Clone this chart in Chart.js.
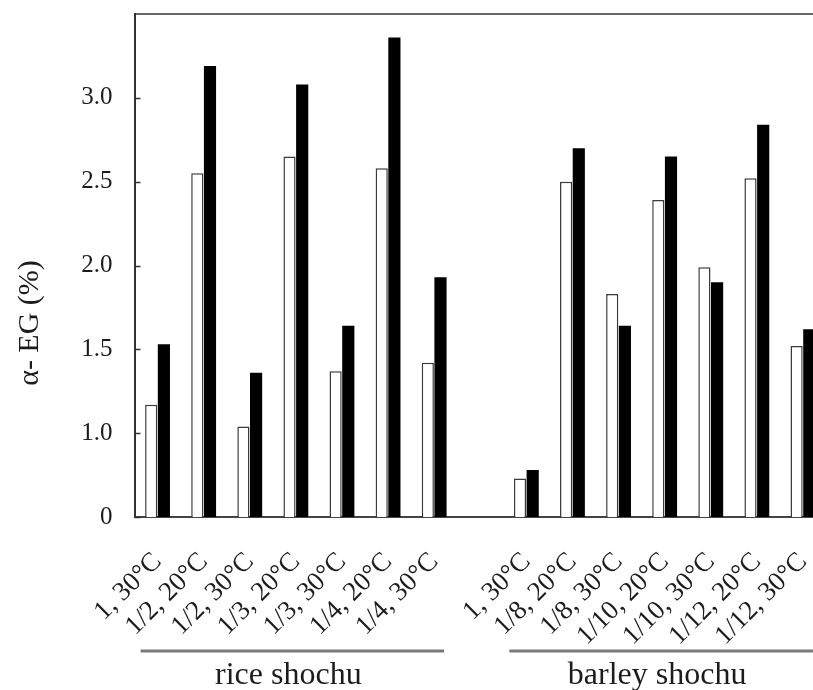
<!DOCTYPE html>
<html>
<head>
<meta charset="utf-8">
<style>
  html, body { margin: 0; padding: 0; background: #fff; overflow: hidden; }
  #wrap { position: absolute; left: 0; top: 0; width: 828px; height: 690px; }
</style>
<script src="https://cdn.jsdelivr.net/npm/chart.js@4/dist/chart.umd.min.js"></script>
</head>
<body>
<div id="wrap"><canvas id="chart" width="828" height="690"></canvas></div>
<script>
// Data (y axis is broken: its "0" sits at 0.5)
const categories = ['1, 30°C', '1/2, 20°C', '1/2, 30°C', '1/3, 20°C', '1/3, 30°C', '1/4, 20°C', '1/4, 30°C', '',
    '1, 30°C', '1/8, 20°C', '1/8, 30°C', '1/10, 20°C', '1/10, 30°C', '1/12, 20°C', '1/12, 30°C'];
const whiteValues = [1.17, 2.55, 1.04, 2.65, 1.37, 2.58, 1.42, null, 0.73, 2.50, 1.83, 2.39, 1.99, 2.52, 1.52];
const blackValues = [1.53, 3.19, 1.36, 3.08, 1.64, 3.36, 1.93, null, 0.78, 2.70, 1.64, 2.65, 1.90, 2.84, 1.62];
const tickValues = [0.5, 1.0, 1.5, 2.0, 2.5, 3.0];
const tickLabels = ['0', '1.0', '1.5', '2.0', '2.5', '3.0'];
const groupLabels = ['rice shochu', 'barley shochu'];
const groupStart = [0, 8];
const groupEnd = [6, 14];

const serif = '"Liberation Serif", "DejaVu Serif", serif';
const ink = '#1c1c1c';

// top frame line, inward y ticks, group brackets and the y title
const extras = {
    id: 'extras',
    afterDraw(chart) {
        const c = chart.ctx;
        const area = chart.chartArea;
        const x = chart.scales.x;
        const y = chart.scales.y;
        c.save();

        c.strokeStyle = '#333';
        c.lineWidth = 1.5;
        c.beginPath();
        c.moveTo(area.left, area.top);
        c.lineTo(area.right, area.top);
        c.stroke();

        tickValues.forEach(v => {
            const py = Math.round(y.getPixelForValue(v)) + 0.5;
            c.beginPath();
            c.moveTo(area.left, py);
            c.lineTo(area.left + 6, py);
            c.stroke();
        });

        c.fillStyle = ink;
        c.textAlign = 'center';
        c.textBaseline = 'alphabetic';
        c.font = '32px ' + serif;
        groupLabels.forEach((g, i) => {
            const x0 = x.getPixelForValue(groupStart[i]) - 17;
            const x1 = x.getPixelForValue(groupEnd[i]) + 10;
            c.strokeStyle = '#7a7a7a';
            c.lineWidth = 3;
            c.beginPath();
            c.moveTo(x0, 651);
            c.lineTo(x1, 651);
            c.stroke();
            c.fillText(g, (x0 + x1) / 2 - 4, 684);
        });

        c.translate(30, 323);
        c.rotate(-Math.PI / 2);
        c.textBaseline = 'middle';
        c.font = '30px ' + serif;
        c.fillText('α- EG (%)', 0, 0);
        c.restore();
    }
};

const ctx = document.getElementById('chart').getContext('2d');
const chart = new Chart(ctx, {
    type: 'bar',
    data: {
        labels: categories,
        datasets: [{
            data: whiteValues,
            backgroundColor: '#ffffff',
            borderColor: '#3a3a3a',
            borderWidth: 1.5,
            borderSkipped: 'bottom'
        }, {
            data: blackValues,
            backgroundColor: '#000000',
            borderColor: '#000000',
            borderWidth: 0
        }]
    },
    options: {
        responsive: false,
        animation: false,
        layout: { padding: { top: 14, right: 2, left: 0, bottom: 0 } },
        datasets: { bar: { barPercentage: 0.96, categoryPercentage: 0.55 } },
        plugins: { legend: { display: false }, tooltip: { enabled: false } },
        scales: {
            x: {
                grid: { display: false, drawTicks: false },
                border: { display: true, color: '#444', width: 2 },
                afterFit: s => {
                    s.height = 173;
                    s.paddingLeft = 0;
                    s.paddingRight = 0;
                },
                ticks: {
                    autoSkip: false,
                    maxRotation: 45,
                    minRotation: 45,
                    padding: 29,
                    color: ink,
                    font: { family: serif, size: 27 }
                }
            },
            y: {
                min: 0.5,
                max: 3.5,
                grid: { display: false, drawTicks: false },
                border: { display: true, color: '#333', width: 2 },
                afterFit: s => {
                    s.width = 134.5;
                    s.paddingTop = 0;
                    s.paddingBottom = 0;
                },
                afterBuildTicks: s => { s.ticks = tickValues.map(v => ({ value: v })); },
                ticks: {
                    padding: 22,
                    color: ink,
                    font: { family: serif, size: 25 },
                    callback: v => tickLabels[tickValues.indexOf(v)]
                }
            }
        }
    },
    plugins: [extras]
});
</script>
</body>
</html>
